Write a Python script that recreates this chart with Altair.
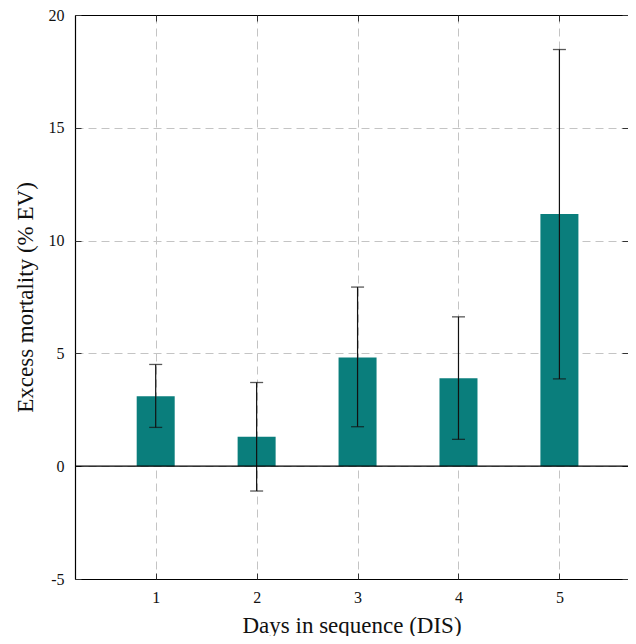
import altair as alt
import pandas as pd

days = [1, 2, 3, 4, 5]
excess = [3.10, 1.31, 4.82, 3.90, 11.18]
ci_low = [1.72, -1.10, 1.75, 1.19, 3.87]
ci_high = [4.51, 3.71, 7.94, 6.62, 18.47]

df = pd.DataFrame({"day": days, "excess": excess, "lo": ci_low, "hi": ci_high})

FONT = "Liberation Serif"
xscale = alt.Scale(domain=[0.25, 5.63], nice=False, zero=False)
yscale = alt.Scale(domain=[-5, 20], nice=False, zero=False)
GRID = dict(grid=True, gridColor="#c4c4c4", gridDash=[8, 5], gridWidth=1)

base = alt.Chart(df)

bars = base.mark_bar(orient="vertical", size=38, color="#0a7e7c").encode(
    x=alt.X("day:Q", scale=xscale,
            axis=alt.Axis(values=days, title="Days in sequence (DIS)", tickSize=0,
                          labelPadding=10, titlePadding=9, domainColor="#000",
                          domainWidth=1.2, labelFont=FONT, titleFont=FONT,
                          labelFontSize=16, titleFontSize=23, labelColor="#111",
                          titleColor="#111", titleFontWeight="normal", **GRID)),
    y=alt.Y("excess:Q", scale=yscale,
            axis=alt.Axis(values=[-5, 0, 5, 10, 15, 20], title="Excess mortality (% EV)",
                          tickSize=0, labelPadding=11, titlePadding=11,
                          labelExpr="'' + datum.value", domainColor="#000",
                          domainWidth=1.2, labelFont=FONT, titleFont=FONT,
                          labelFontSize=16, titleFontSize=23, labelColor="#111",
                          titleColor="#111", titleFontWeight="normal", **GRID)),
    y2=alt.datum(0),
)

rules = base.mark_rule(color="#111", strokeWidth=1.2).encode(
    x=alt.X("day:Q", scale=xscale,
            axis=alt.Axis(orient="top", values=days, labels=False, ticks=False, grid=False,
                          title=None, domainColor="#000", domainWidth=1.2)),
    y=alt.Y("lo:Q", scale=yscale,
            axis=alt.Axis(orient="left", offset=-6, values=[-5, 0, 5, 10, 15, 20],
                          labels=False, domain=False, grid=False, title=None,
                          tickSize=6, tickColor="#333")),
    y2="hi:Q",
)

caps_lo = base.mark_tick(orient="horizontal", size=13, thickness=1.3, color="#111").encode(
    x=alt.X("day:Q", scale=xscale,
            axis=alt.Axis(orient="bottom", offset=-6, values=days, labels=False,
                          domain=False, grid=False, title=None, tickSize=6, tickColor="#333")),
    y=alt.Y("lo:Q", scale=yscale,
            axis=alt.Axis(orient="right", offset=-6, values=[-5, 0, 5, 10, 15, 20],
                          labels=False, domain=False, grid=False, title=None,
                          tickSize=6, tickColor="#333")),
)

caps_hi = base.mark_tick(orient="horizontal", size=13, thickness=1.3, color="#111").encode(
    x=alt.X("day:Q", scale=xscale,
            axis=alt.Axis(orient="top", offset=-6, values=days, labels=False,
                          domain=False, grid=False, title=None, tickSize=6, tickColor="#333")),
    y=alt.Y("hi:Q", scale=yscale, axis=None),
)

zero = alt.Chart(pd.DataFrame({"z": [0]})).mark_rule(color="#000", strokeWidth=1.2).encode(
    y=alt.Y("z:Q", scale=yscale, axis=None),
)

chart = alt.layer(bars, rules, caps_lo, caps_hi, zero).resolve_axis(
    x="independent", y="independent"
).properties(
    width=553, height=564,
    autosize=alt.AutoSizeParams(type="none"),
    padding={"left": 67, "top": 7, "right": 0, "bottom": 57},
).configure_view(stroke=None).configure(background="white")

chart.save("out.html", embed_options={"renderer": "svg", "actions": False})
